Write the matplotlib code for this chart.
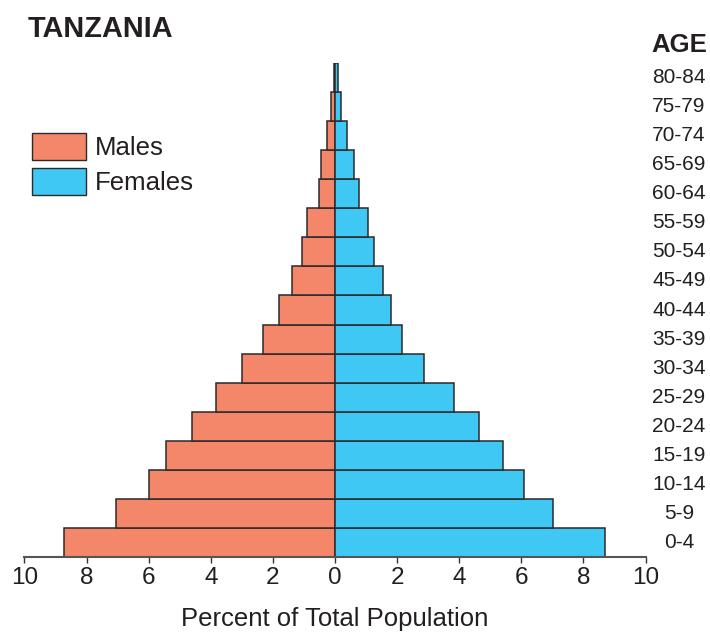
import matplotlib
matplotlib.use('Agg')
import matplotlib.pyplot as plt
import matplotlib.patches as mpatches
import matplotlib.transforms as mtransforms
import numpy as np

plt.rcParams['font.family'] = ['Liberation Sans', 'DejaVu Sans']

# Age groups, bottom to top
age_groups = ['0-4', '5-9', '10-14', '15-19', '20-24', '25-29', '30-34',
              '35-39', '40-44', '45-49', '50-54', '55-59', '60-64',
              '65-69', '70-74', '75-79', '80-84']

# Percent of total population
males = [8.72, 7.06, 6.0, 5.45, 4.62, 3.84, 3.0, 2.31, 1.79, 1.40,
         1.05, 0.89, 0.52, 0.45, 0.26, 0.13, 0.03]
females = [8.70, 7.02, 6.10, 5.42, 4.63, 3.84, 2.87, 2.15, 1.79, 1.54,
           1.25, 1.06, 0.77, 0.62, 0.38, 0.18, 0.10]

x_ticks = [-10, -8, -6, -4, -2, 0, 2, 4, 6, 8, 10]

male_color = '#F4876A'
female_color = '#40C8F4'
edge = '#2a2a2a'

fig = plt.figure(figsize=(7.1, 6.33), dpi=100)
ax = fig.add_axes([24.5 / 710, 1 - 556.7 / 633, 621 / 710, 493.4 / 633])

y = np.arange(len(age_groups))
ax.barh(y, -np.array(males), height=1.0, color=male_color,
        edgecolor=edge, linewidth=1.1)
ax.barh(y, females, height=1.0, color=female_color,
        edgecolor=edge, linewidth=1.1)

ax.set_xlim(-10, 10)
ax.set_ylim(-0.5, len(age_groups) - 0.5)
ax.set_yticks([])
ax.set_xticks(x_ticks)
ax.set_xticklabels([str(abs(t)) for t in x_ticks])
ax.tick_params(axis='x', direction='out', length=4, width=1,
               color='#333333', labelsize=17.5, pad=3.5,
               labelcolor='#231f20')
for side in ['top', 'left', 'right']:
    ax.spines[side].set_visible(False)
ax.spines['bottom'].set_color('#555555')
ax.spines['bottom'].set_linewidth(1.5)

ax.set_xlabel('Percent of Total Population', fontsize=18.5,
              color='#231f20', labelpad=13)

# Age labels on the right
trans = mtransforms.blended_transform_factory(fig.transFigure, ax.transData)
for yi, lab in zip(y, age_groups):
    ax.text(679 / 710, yi, lab, transform=trans, ha='center',
            va='center', fontsize=15, color='#231f20', clip_on=False)

fig.text(679 / 710, 1 - 51.7 / 633, 'AGE', ha='center', va='baseline',
         fontsize=18.5, fontweight='bold', color='#231f20')
fig.text(28 / 710, 1 - 37 / 633, 'TANZANIA', ha='left', va='baseline',
         fontsize=20.8, fontweight='bold', color='#231f20')

handles = [mpatches.Patch(facecolor=male_color, edgecolor=edge,
                          linewidth=1.0, label='Males'),
           mpatches.Patch(facecolor=female_color, edgecolor=edge,
                          linewidth=1.0, label='Females')]
fig.legend(handles=handles, loc='upper left',
           bbox_to_anchor=(32 / 710, 1 - 133 / 633), frameon=False,
           fontsize=18.5, handlelength=2.1, handleheight=1.25,
           handletextpad=0.35, labelspacing=0.3, borderpad=0,
           borderaxespad=0, labelcolor='#231f20')

fig.savefig('out.png', dpi=100)
